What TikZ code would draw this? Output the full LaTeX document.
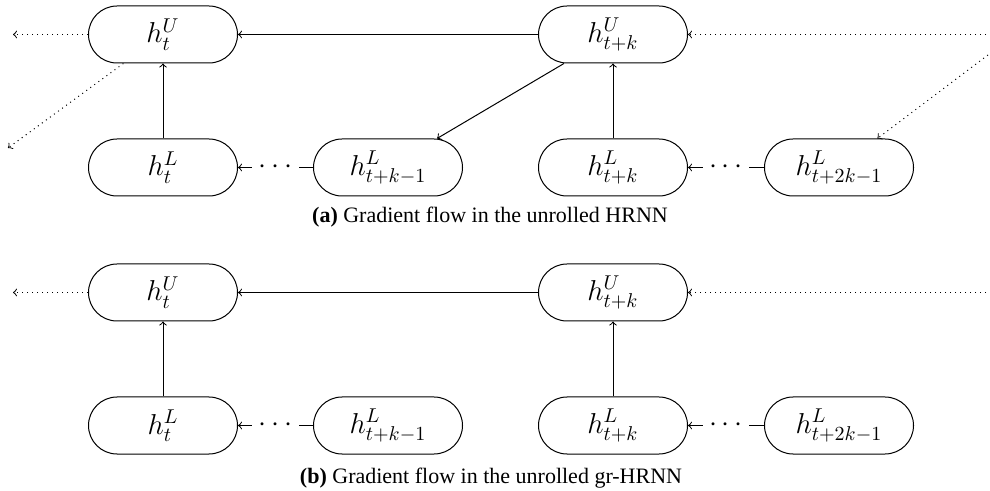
\documentclass[tikz,border=0pt]{standalone}
\usepackage{fontspec}
\newfontfamily\capfont{Liberation Serif}
\begin{document}
\begin{tikzpicture}[x=0.5pt,y=-0.5pt, line width=0.5pt,
  unit/.style={draw, rectangle, rounded corners=14.25pt, minimum width=74.5pt, minimum height=28.5pt, inner sep=0pt, font=\Large},
  flow/.style={->},
  gradflow/.style={->,dotted},
  dotsnode/.style={fill=white, font=\Large},
  captext/.style={font=\capfont\fontsize{11}{13}\selectfont, anchor=base}]
\useasboundingbox (0,0) rectangle (990,491);

% ---------- panel (a) ----------
\node[unit] (u1) at (163,34.5) {$h_t^U$};
\node[unit] (u2) at (613,34.5) {$h_{t+k}^U$};
\node[unit] (l1) at (163,167.5) {$h_t^L$};
\node[unit] (l2) at (388,167.5) {$h_{t+k-1}^L$};
\node[unit] (l3) at (613,167.5) {$h_{t+k}^L$};
\node[unit] (l4) at (839,167.5) {$h_{t+2k-1}^L$};

\draw[flow] (u2) -- (u1);
\draw[flow] (l1) -- (u1);
\draw[flow] (l3) -- (u2);
\draw[flow] (u2) -- (l2);
\draw[flow] (l2) -- node[dotsnode] (d1) {$\cdots$} (l1);
\draw[flow] (l4) -- node[dotsnode] (d2) {$\cdots$} (l3);

\coordinate (lo) at (13,34.5);
\coordinate (ld) at (8,148);
\coordinate (ri) at (991,34.5);
\coordinate (rd) at (992,52);
\draw[gradflow] (u1) -- (lo);
\draw[gradflow] (u1) -- (ld);
\draw[gradflow] (ri) -- (u2);
\draw[gradflow] (rd) -- (l4);

\node[captext] (ca) at (490,223) {\textbf{(a)} Gradient flow in the unrolled HRNN};

% ---------- panel (b) ----------
\node[unit] (bu1) at (163,292.5) {$h_t^U$};
\node[unit] (bu2) at (613,292.5) {$h_{t+k}^U$};
\node[unit] (bl1) at (163,425.5) {$h_t^L$};
\node[unit] (bl2) at (388,425.5) {$h_{t+k-1}^L$};
\node[unit] (bl3) at (613,425.5) {$h_{t+k}^L$};
\node[unit] (bl4) at (839,425.5) {$h_{t+2k-1}^L$};

\draw[flow] (bu2) -- (bu1);
\draw[flow] (bl1) -- (bu1);
\draw[flow] (bl3) -- (bu2);
\draw[flow] (bl2) -- node[dotsnode] (bd1) {$\cdots$} (bl1);
\draw[flow] (bl4) -- node[dotsnode] (bd2) {$\cdots$} (bl3);

\coordinate (blo) at (13,292.5);
\coordinate (bri) at (991,292.5);
\draw[gradflow] (bu1) -- (blo);
\draw[gradflow] (bri) -- (bu2);

\node[captext] (cb) at (491,483) {\textbf{(b)} Gradient flow in the unrolled gr-HRNN};
\end{tikzpicture}
\end{document}
